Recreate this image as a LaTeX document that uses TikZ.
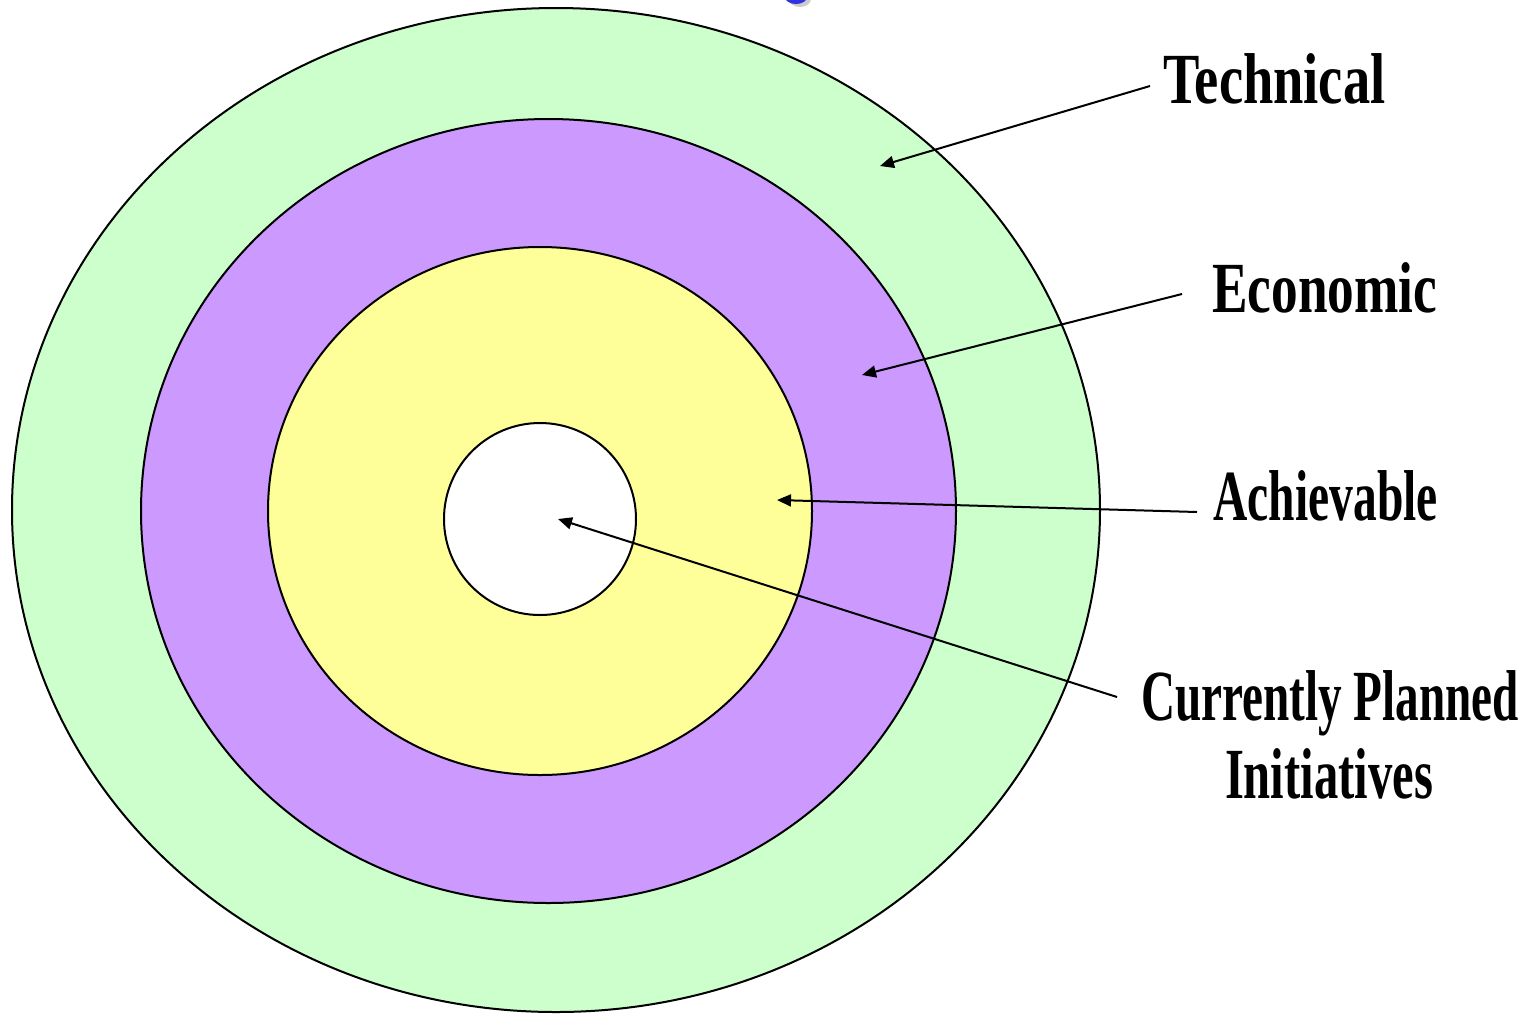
\documentclass[tikz,border=0pt]{standalone}
\usepackage{fontspec}
\setmainfont{Liberation Serif}
\usetikzlibrary{shapes.geometric,arrows.meta}
\definecolor{tgreen}{RGB}{204,255,204}
\definecolor{tpurple}{RGB}{204,153,255}
\definecolor{tyellow}{RGB}{255,255,153}
\definecolor{tblue}{RGB}{51,51,221}
\begin{document}
\begin{tikzpicture}[x=0.5pt,y=-0.5pt,
  ring/.style={ellipse,draw=black,line width=1pt,inner sep=0pt},
  lab/.style={font=\fontsize{36}{41}\selectfont\bfseries,inner sep=0pt,anchor=base west},
  pointer/.style={line width=1pt,-{Triangle[length=7pt,width=6pt]}}]
\useasboundingbox (0,0) rectangle (1539,1014);
% fragment of cut-off title
\begin{scope}
\clip (0,0) rectangle (1539,1014);
\fill[gray!40] (800,-1) ellipse [x radius=11, y radius=8];
\fill[tblue] (796,-3) ellipse [x radius=11, y radius=7];
\end{scope}
\node[ring,fill=tgreen,minimum width=544pt,minimum height=502pt] (technical) at (556,510) {};
\node[ring,fill=tpurple,minimum width=407.5pt,minimum height=392pt] (economic) at (548.5,511) {};
\node[ring,fill=tyellow,minimum width=272pt,minimum height=264pt] (achievable) at (540,511) {};
\node[ring,fill=white,circle,minimum size=96pt] (planned) at (540,519) {};
% labels
\node[lab] (ltech) at (1163,103) {\scalebox{0.757}[1]{Technical}};
\node[lab] (lecon) at (1212,312) {\scalebox{0.74}[1]{Economic}};
\node[lab] (lach) at (1213,520) {\scalebox{0.66}[1]{Achievable}};
\node[lab,anchor=base] (lcur) at (1330,720) {\scalebox{0.655}[1]{Currently Planned}};
\node[lab,anchor=base] (linit) at (1329,798) {\scalebox{0.675}[1]{Initiatives}};
% arrow ends
\coordinate (ttail) at (1150,86);
\coordinate (thead) at (880,166);
\coordinate (etail) at (1182,294);
\coordinate (ehead) at (862,375);
\coordinate (atail) at (1197,512);
\coordinate (ahead) at (777,500);
\coordinate (ctail) at (1117,697);
\coordinate (chead) at (558,519);
\draw[pointer] (ttail) -- (thead);
\draw[pointer] (etail) -- (ehead);
\draw[pointer] (atail) -- (ahead);
\draw[pointer] (ctail) -- (chead);
\end{tikzpicture}
\end{document}
